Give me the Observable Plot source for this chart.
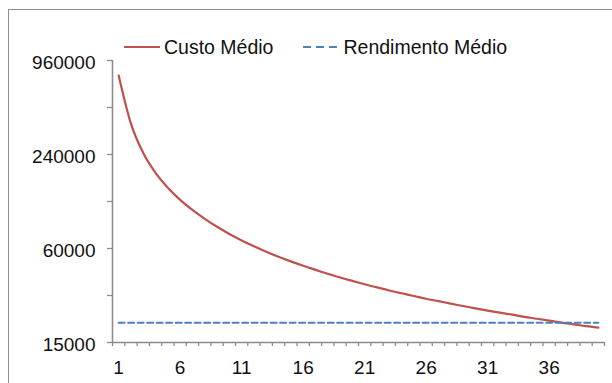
<!DOCTYPE html>
<html>
<head>
<meta charset="utf-8">
<script src="https://cdn.jsdelivr.net/npm/d3@7"></script>
<script src="https://cdn.jsdelivr.net/npm/@observablehq/plot@0.6"></script>
<style>
  body { margin: 0; background: #fff; }
  #wrap { position: relative; width: 612px; height: 383px; overflow: hidden; font-family: "Liberation Sans", Arial, sans-serif; }
  #frame { position: absolute; left: 8px; top: 9px; width: 800px; height: 600px; border: 1px solid #8f8f8f; box-sizing: border-box; }
  #legend { position: absolute; top: 35px; left: 124px; font-size: 19.5px; display: flex; align-items: center; color: #111; line-height: 24px; }
  #legend .item { display: flex; align-items: center; }
  #legend svg { margin-right: 4px; }
  #chart { position: absolute; left: 0; top: 0; }
</style>
</head>
<body>
<div id="wrap">
  <div id="frame"></div>
  <div id="chart"></div>
  <div id="legend"></div>
</div>
<script>
// Categories (x axis)
const categorias = [1,2,3,4,5,6,7,8,9,10,11,12,13,14,15,16,17,18,19,20,21,22,23,24,25,26,27,28,29,30,31,32,33,34,35,36,37,38,39,40];
// Series: Custo Médio
const custoMedio = [770000,378000,245000,183000,147000,123000,106000,93000,82700,74400,
                    67600,62000,57200,53100,49600,46500,43800,41300,39100,37200,
                    35400,33800,32300,31000,29800,28600,27600,26600,25700,24800,
                    24000,23300,22600,21900,21300,20700,20100,19600,19100,18700];
// Series: Rendimento Médio (constant)
const rendimentoMedio = [20100,20100,20100,20100,20100,20100,20100,20100,20100,20100,
                         20100,20100,20100,20100,20100,20100,20100,20100,20100,20100,
                         20100,20100,20100,20100,20100,20100,20100,20100,20100,20100,
                         20100,20100,20100,20100,20100,20100,20100,20100,20100,20100];
// Tick labels
const yTicks = [15000, 60000, 240000, 960000];
const yMinorTicks = [30000, 120000, 480000];
const xTickLabels = [1, 6, 11, 16, 21, 26, 31, 36];
const seriesNames = ["Custo Médio", "Rendimento Médio"];
const colors = ["#C0504D", "#4F81BD"];

const data = categorias.map((c, i) => ({c, custo: custoMedio[i], rend: rendimentoMedio[i]}));
const xMin = categorias[0] - 0.5;
const xMax = categorias[categorias.length - 1] + 0.5;
const boundaries = [xMin, ...categorias.map(c => c + 0.5)];
const axisColor = "#8c8c8c";

const chart = Plot.plot({
  width: 612,
  height: 383,
  marginLeft: 112,
  marginRight: 8,
  marginTop: 60,
  marginBottom: 41,
  x: {type: "linear", domain: [xMin, xMax], label: null},
  y: {type: "log", domain: [yTicks[0], yTicks[yTicks.length - 1]], label: null},
  style: {fontFamily: "'Liberation Sans', Arial, sans-serif", fontSize: "19px", color: "#111", background: "transparent", overflow: "visible"},
  marks: [
    Plot.axisY({ticks: [...yTicks, ...yMinorTicks], tickSize: 5, text: null, label: null, stroke: axisColor, strokeWidth: 1.3}),
    Plot.text(yTicks, {y: d => d, text: d => String(d), frameAnchor: "left", textAnchor: "end", dx: -17, dy: 2, fontSize: 19, fill: "#111"}),
    Plot.axisX({ticks: boundaries, tickSize: 4, text: null, label: null, stroke: axisColor, strokeWidth: 1.3}),
    Plot.axisX({ticks: xTickLabels, tickSize: 0, tickPadding: 18, label: null, fontSize: 19}),
    Plot.ruleX([xMin], {stroke: axisColor, strokeWidth: 1.6}),
    Plot.ruleY([yTicks[0]], {stroke: axisColor, strokeWidth: 1.6}),
    Plot.lineY(data, {x: "c", y: "custo", stroke: colors[0], strokeWidth: 2.2, curve: "monotone-x"}),
    Plot.lineY(data, {x: "c", y: "rend", stroke: colors[1], strokeWidth: 2, strokeDasharray: "6,3.5"})
  ]
});
document.getElementById("chart").appendChild(chart);

// Legend
const legend = document.getElementById("legend");
seriesNames.forEach((name, i) => {
  const item = document.createElement("div");
  item.className = "item";
  if (i > 0) item.style.marginLeft = "30px";
  const dash = i === 1 ? ' stroke-dasharray="8,5"' : '';
  item.innerHTML = `<svg width="36" height="6"><line x1="0" y1="3" x2="36" y2="3" stroke="${colors[i]}" stroke-width="2.2"${dash}/></svg><span>${name}</span>`;
  legend.appendChild(item);
});
</script>
</body>
</html>
